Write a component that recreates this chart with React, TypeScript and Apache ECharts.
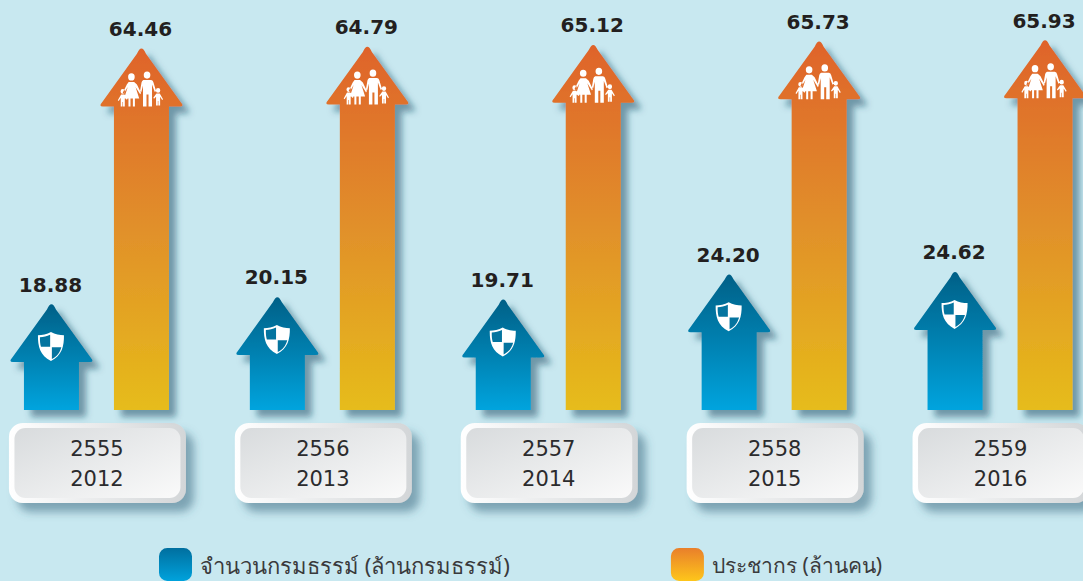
import React, { useEffect, useRef } from "react";
import * as echarts from "echarts";

const years = ["2555\n2012", "2556\n2013", "2557\n2014", "2558\n2015", "2559\n2016"];
const policies = [18.88, 20.15, 19.71, 24.2, 24.62];
const population = [64.46, 64.79, 65.12, 65.73, 65.93];
const policyName = "จำนวนกรมธรรม์ (ล้านกรมธรรม์)";
const populationName = "ประชากร (ล้านคน)";

const FONT = "'DejaVu Sans', 'Noto Sans', sans-serif";

const circle = (cx: number, cy: number, r: number) =>
  `M${cx - r} ${cy}a${r} ${r} 0 1 0 ${2 * r} 0a${r} ${r} 0 1 0 ${-2 * r} 0Z`;

const familyD =
  circle(13, 5.5, 3.6) + circle(30, 3.6, 3.6) + circle(3.6, 20, 2.4) + circle(42, 19, 2.4) +
  // mother
  "M10 10.5L16 10.5L19 13L23.5 21.5L22.5 22.8L17.5 15.5L21.5 27L16.8 27L16.8 35L14.6 35L14.6 27L12 27L12 35L9.8 35L9.8 27L5 27L9 15.5L4.6 22.4L3.6 21.3L8 13Z" +
  // father
  "M26 8.5L34.5 8.5Q36.5 8.8 37 11L39.8 19.5L38.4 20.5L35.4 13L35.4 35L31.6 35L31.6 23L29.4 23L29.4 35L25.6 35L25.6 14L23.8 20.6L22.4 19.6L24 11Q24.4 9 26 8.5Z" +
  // left child
  "M1.8 23L5.4 23L8.8 27.4L8 28.3L5.8 26.4L5.8 35L3.9 35L3.9 30.5L3.3 30.5L3.3 35L1.4 35L1.4 26.4L-0.8 29.6L-1.8 28.8Z" +
  // right child
  "M40.2 22L43.8 22L47.4 27.8L46.4 28.6L44.2 25.4L44.2 34L42.3 34L42.3 29.5L41.7 29.5L41.7 34L39.8 34L39.8 25.4L37.6 27.2L36.8 26.4Z";

const shieldOuterD =
  "M13 0C17 2.5 22 3.2 26 3.2C26.2 14 24 23.5 13 29C2 23.5 -0.2 14 0 3.2C4 3.2 9 2.5 13 0Z";
const shieldTLD = "M12.2 2.6C9 4.3 5.4 4.9 2 5.1C1.9 9 2.2 12.2 3 14.6L12.2 14.6Z";
const shieldBRD = "M13.9 15.2L23.4 15.2C22 20 19.4 24.4 13.9 27Z";

echarts.graphic.registerShape("familyIcon", echarts.graphic.extendPath(familyD, {}));
echarts.graphic.registerShape("shieldOuter", echarts.graphic.extendPath(shieldOuterD, {}));
echarts.graphic.registerShape("shieldTL", echarts.graphic.extendPath(shieldTLD, {}));
echarts.graphic.registerShape("shieldBR", echarts.graphic.extendPath(shieldBRD, {}));

echarts.graphic.registerShape(
  "arrowUp",
  echarts.graphic.extendShape({
    shape: { cx: 0, tip: 0, base: 0, shaft: 27.5, head: 41.5, headH: 58 },
    buildPath(ctx: any, s: any) {
      const { cx, tip, base, shaft, head, headH } = s;
      const hy = tip + headH;
      const r = 5;
      const k = head / headH;
      ctx.moveTo(cx - shaft, base);
      ctx.lineTo(cx - shaft, hy);
      ctx.lineTo(cx - head + 3, hy);
      ctx.quadraticCurveTo(cx - head - 1.5, hy, cx - head + 2, hy - 4);
      ctx.lineTo(cx - r * 0.9, tip + (r * 0.9) / k - 1);
      ctx.quadraticCurveTo(cx, tip - 5, cx + r * 0.9, tip + (r * 0.9) / k - 1);
      ctx.lineTo(cx + head - 2, hy - 4);
      ctx.quadraticCurveTo(cx + head + 1.5, hy, cx + head - 3, hy);
      ctx.lineTo(cx + shaft, hy);
      ctx.lineTo(cx + shaft, base);
      ctx.closePath();
    },
  })
);

const grad = (stops: [number, string][]) =>
  new echarts.graphic.LinearGradient(0, 0, 0, 1, stops.map(([offset, color]) => ({ offset, color })));

const labelStyle = (text: string, x: number, y: number) => ({
  type: "text",
  style: {
    text,
    x,
    y,
    align: "center",
    verticalAlign: "middle",
    font: `bold 20px ${FONT}`,
    fill: "#231f20",
  },
});

const shadow = {
  shadowColor: "rgba(25,70,95,0.5)",
  shadowBlur: 6,
  shadowOffsetX: 7,
  shadowOffsetY: 7,
};

const arrowItem = (dx: number, kind: "policy" | "population") => (_: any, api: any) => {
  const value = api.value(1);
  const [cxBand, tip] = api.coord([api.value(0), value]);
  const [, base] = api.coord([api.value(0), 0]);
  const cx = cxBand + dx;
  const fill =
    kind === "policy"
      ? grad([[0, "#006087"], [0.5, "#0181b1"], [1, "#00a4de"]])
      : grad([[0, "#df6329"], [0.5, "#e1902a"], [1, "#e6bc1a"]]);
  const arrow = {
    type: "arrowUp",
    shape: { cx, tip, base },
    style: { fill, ...shadow },
  };
  const text = labelStyle(value.toFixed(2), cx - 1, tip - 19.5);
  if (kind === "policy") {
    const sx = cx - 13.5;
    const sy = tip + 28;
    return {
      type: "group",
      children: [
        arrow,
        { type: "shieldOuter", x: sx, y: sy, style: { fill: "#ffffff" } },
        { type: "shieldTL", x: sx, y: sy, style: { fill: "#04749f" } },
        { type: "shieldBR", x: sx, y: sy, style: { fill: "#04749f" } },
        text,
      ],
    };
  }
  return {
    type: "group",
    children: [
      arrow,
      { type: "familyIcon", x: cx - 22, y: tip + 23, scaleX: 0.92, style: { fill: "#ffffff" } },
      text,
    ],
  };
};

const cardItem = (_: any, api: any) => {
  const [cx] = api.coord([api.value(0), 0]);
  const left = cx - 88;
  const top = 423;
  return {
    type: "group",
    children: [
      {
        type: "rect",
        shape: { x: left, y: top, width: 177, height: 80, r: 14 },
        style: {
          fill: new echarts.graphic.LinearGradient(0, 0, 1, 0, [
            { offset: 0, color: "#ffffff" },
            { offset: 1, color: "#d3d6d8" },
          ]),
          shadowColor: "rgba(45,95,120,0.5)",
          shadowBlur: 8,
          shadowOffsetX: 8,
          shadowOffsetY: 9,
        },
      },
      {
        type: "rect",
        shape: { x: left + 5.5, y: top + 5, width: 166, height: 70, r: 11 },
        style: {
          fill: new echarts.graphic.LinearGradient(0, 0, 1, 1, [
            { offset: 0, color: "#d8dbdd" },
            { offset: 1, color: "#fafafa" },
          ]),
        },
      },
    ],
  };
};

export default function App() {
  const ref = useRef<HTMLDivElement>(null);
  useEffect(() => {
    const chart = echarts.init(ref.current!, undefined, { renderer: "svg" });
    chart.setOption({
      animation: false,
      backgroundColor: "#c8e8f0",
      textStyle: { fontFamily: FONT },
      grid: { left: -16, top: 0, width: 1129.5, height: 410, outerBoundsMode: "none", containLabel: false },
      xAxis: {
        type: "category",
        data: years,
        z: 10,
        axisLine: { show: false },
        axisTick: { show: false },
        splitLine: { show: false },
        axisLabel: {
          interval: 0,
          margin: 24,
          fontSize: 21,
          lineHeight: 30,
          color: "#2b2b2d",
          fontFamily: FONT,
          verticalAlign: "top",
        },
      },
      yAxis: { type: "value", min: 0, max: 73.1, show: false },
      legend: {
        left: 159,
        top: 548,
        padding: 0,
        itemWidth: 33,
        itemHeight: 33,
        itemGap: 161,
        selectedMode: false,
        textStyle: { fontSize: 21, color: "#3a3a3c", fontFamily: "'Noto Sans', 'DejaVu Sans', sans-serif" },
        data: [
          {
            name: policyName,
            icon: "roundRect",
            itemStyle: { color: grad([[0, "#006f9f"], [1, "#00a2dc"]]) },
            textStyle: { fontSize: 22, color: "#3a3a3c", padding: [0, 0, 0, 3] },
          },
          {
            name: populationName,
            icon: "roundRect",
            itemStyle: { color: grad([[0, "#e97f2b"], [1, "#fec61a"]]) },
            textStyle: { fontSize: 21, color: "#3a3a3c", padding: [0, 0, 0, 3] },
          },
        ],
      },
      series: [
        {
          type: "custom",
          z: 1,
          silent: true,
          data: years.map((_, i) => [i, 0]),
          encode: { x: 0, y: 1 },
          renderItem: cardItem,
        },
        {
          type: "custom",
          name: policyName,
          z: 2,
          data: policies.map((v, i) => [i, v]),
          encode: { x: 0, y: 1 },
          renderItem: arrowItem(-45.5, "policy"),
        },
        {
          type: "custom",
          name: populationName,
          z: 2,
          data: population.map((v, i) => [i, v]),
          encode: { x: 0, y: 1 },
          renderItem: arrowItem(44.5, "population"),
        },
      ],
    });
    return () => chart.dispose();
  }, []);
  return (
    <div
      ref={ref}
      style={{ position: "absolute", left: 0, top: 0, width: 1083, height: 581 }}
    />
  );
}
